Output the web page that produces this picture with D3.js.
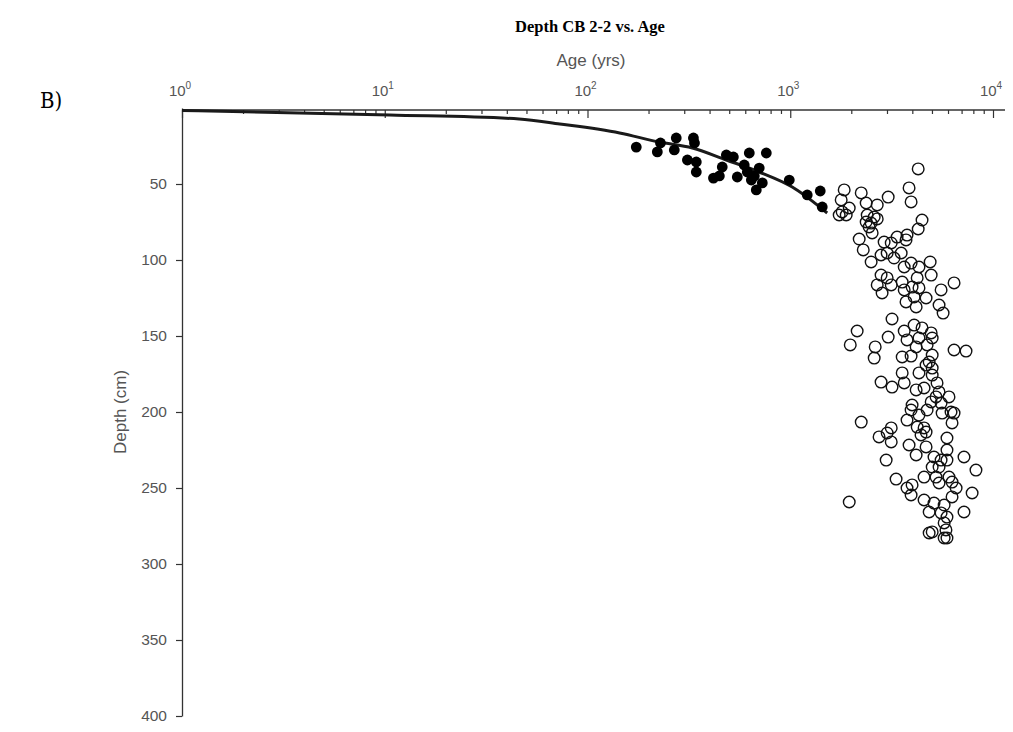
<!DOCTYPE html>
<html>
<head>
<meta charset="utf-8">
<script src="https://cdn.jsdelivr.net/npm/d3@7"></script>
<style>
  body { margin: 0; background: #fff; }
  svg { display: block; }
</style>
</head>
<body>
<div id="chart"></div>
<script>
// fitted age-depth curve (age yrs, depth cm)
const curve_age = [1, 10.6, 46, 73, 144, 226, 329, 484, 703, 1023, 1521];
const curve_depth = [1.6, 4.6, 7.2, 10.5, 16.4, 22.4, 26.3, 34.2, 42.1, 52.0, 69.1];

// dated samples, filled markers
const filled_age = [174, 221, 229, 268, 274, 333, 337, 311, 344, 344, 418, 447, 462, 484, 524,
  548, 628, 593, 703, 762, 643, 680, 728, 989, 1213, 1406, 1438, 614, 665];
const filled_depth = [25.7, 28.9, 23.0, 27.6, 19.7, 19.7, 23.0, 34.2, 35.5, 42.1, 46.1, 44.7, 38.8, 30.9, 32.2,
  45.4, 29.6, 37.5, 39.5, 29.6, 47.4, 53.9, 49.3, 47.4, 57.2, 54.6, 65.1, 42.1, 44.7];

// samples, open markers
const open_age = [4276, 1845, 1783, 3855, 3945, 2239, 2368, 2685, 3041, 1803, 1954, 1888, 1743, 2396, 2594,
  2685, 2368, 2506, 2449, 4467, 4276, 2188, 2535, 2904, 3148, 3365, 3724, 3767, 2291,
  2506, 2805, 3006, 3251, 3524, 3648, 3945, 4315, 4898, 4955, 4227, 2805, 3006, 2685, 3148,
  2838, 3565, 3648, 3990, 4315, 4083, 4677, 3724, 4178, 5546, 6427, 5420, 5675, 3177, 2138,
  1977, 3041, 2624, 3648, 4083, 4467, 4955, 3767, 4315, 4178, 4732, 5012, 6427, 7362, 3565,
  3945, 5012, 2594,
  4677, 4842, 5012, 3565, 4315, 5012, 2805, 3177, 3648, 4178, 4571, 5297, 5420, 5236, 6067,
  4955, 5546, 3990, 3945, 4315, 3767, 6209, 6427, 5610, 6281, 4732, 2239, 4227, 4571, 4677,
  4416, 3148, 3006, 2742, 3148, 3855, 4178, 4677, 5929, 5929, 7194, 2972, 5117, 5546, 5929,
  5012, 5420, 8241,
  3327, 3767, 3990, 3945, 4571, 5236, 5420, 6067, 6281, 6577, 6281, 7889, 1954, 4571, 5117,
  5741, 4842, 5546, 5929, 7194, 5741, 5861, 5012, 4842, 5741, 5929];
const open_depth = [40.1, 53.9, 60.5, 52.6, 61.8, 55.9, 62.5, 63.8, 58.6, 68.4, 65.8, 70.4, 70.4, 70.4, 71.7,
  73.0, 75.0, 75.7, 78.3, 73.7, 79.6, 86.2, 82.2, 88.2, 88.8, 84.9, 86.8, 83.6, 93.4,
  101.3, 96.7, 95.4, 98.7, 95.4, 104.6, 102.0, 104.6, 101.3, 109.9, 111.8, 109.9, 111.8, 116.4, 116.4,
  121.7, 114.5, 119.7, 117.8, 118.4, 124.3, 125.0, 127.6, 130.9, 119.7, 115.1, 129.6, 134.9, 138.8, 146.7,
  155.9, 150.7, 157.2, 146.7, 142.8, 144.7, 148.0, 152.6, 151.3, 157.2, 155.9, 151.3, 159.2, 159.9, 163.8,
  163.2, 162.5, 164.5,
  169.1, 167.1, 171.1, 174.3, 174.3, 175.7, 180.3, 183.6, 180.9, 185.5, 184.2, 180.9, 186.8, 190.1, 190.1,
  193.4, 194.1, 195.4, 198.7, 202.0, 205.3, 200.0, 200.7, 200.7, 207.2, 198.7, 206.6, 209.9, 210.5, 213.2,
  215.1, 210.5, 213.8, 216.4, 219.7, 221.7, 228.3, 223.0, 217.1, 225.0, 229.6, 231.6, 229.6, 231.6, 231.6,
  236.2, 236.2, 238.2,
  244.1, 250.0, 248.0, 254.6, 242.8, 242.8, 246.7, 242.8, 246.1, 250.0, 255.9, 253.3, 259.2, 257.9, 259.9,
  261.2, 265.8, 266.4, 269.1, 265.8, 273.0, 277.6, 278.9, 279.6, 282.9, 282.9];

const age_major = [1, 10, 100, 1000, 10000];
const depth_ticks = [50, 100, 150, 200, 250, 300, 350, 400];

const width = 1013;
const height = 732;
const axis_color = "#333";
const label_color = "#555";
const sans = "Liberation Sans, Arial, sans-serif";

const svg = d3.select("#chart").append("svg")
  .attr("width", width)
  .attr("height", height);

const x = d3.scaleLog().domain([1, 10000]).range([182, 993]);
const y = d3.scaleLinear().domain([0, 400]).range([108, 716]);

// title and panel letter
svg.append("text")
  .attr("x", 590).attr("y", 32)
  .attr("text-anchor", "middle")
  .attr("font-family", "Liberation Serif, Times New Roman, serif")
  .attr("font-weight", "bold")
  .attr("font-size", 16.5)
  .text("Depth CB 2-2 vs. Age");

svg.append("text")
  .attr("x", 40).attr("y", 108)
  .attr("font-family", "DejaVu Serif Condensed, Liberation Serif, serif")
  .attr("font-size", 22)
  .text("B)");

// top log axis
const minor = [];
for (let k = 0; k < 4; k++) {
  for (let m = 2; m <= 9; m++) minor.push(m * Math.pow(10, k));
}

const top_g = svg.append("g").attr("transform", `translate(0,${y(0) + 2})`);
top_g.append("g")
  .call(d3.axisTop(x).tickValues(minor).tickSize(-4).tickSizeOuter(0).tickFormat(""))
  .call((g) => g.select(".domain").remove());
top_g.append("g")
  .call(d3.axisTop(x).tickValues(age_major).tickSize(-8).tickSizeOuter(0).tickFormat(""))
  .call((g) => g.select(".domain").remove());
top_g.selectAll("line").attr("stroke", axis_color).attr("stroke-width", 1.2);
top_g.append("line")
  .attr("x1", x(1)).attr("x2", x(10000) + 12)
  .attr("stroke", axis_color).attr("stroke-width", 1.3);

const exp_labels = top_g.selectAll(".exp_label")
  .data(age_major)
  .join("text")
  .attr("class", "exp_label")
  .attr("x", (d) => x(d) - 2)
  .attr("y", -14)
  .attr("text-anchor", "middle")
  .attr("font-family", sans)
  .attr("font-size", 15)
  .attr("fill", label_color);
exp_labels.append("tspan").text("10");
exp_labels.append("tspan")
  .attr("dy", -7)
  .attr("font-size", 10)
  .text((d) => Math.round(Math.log10(d)));

svg.append("text")
  .attr("x", 591).attr("y", 66)
  .attr("text-anchor", "middle")
  .attr("font-family", sans)
  .attr("font-size", 17)
  .attr("fill", label_color)
  .text("Age (yrs)");

// left depth axis
const left_g = svg.append("g")
  .attr("transform", `translate(${x(1)},0)`)
  .call(d3.axisLeft(y).tickValues(depth_ticks).tickSize(6).tickSizeOuter(0).tickPadding(9));
left_g.select(".domain").attr("stroke", axis_color).attr("stroke-width", 1.3);
left_g.selectAll(".tick line").attr("stroke", axis_color).attr("stroke-width", 1.2);
left_g.selectAll(".tick text")
  .attr("font-family", sans)
  .attr("font-size", 15.5)
  .attr("fill", label_color);

svg.append("text")
  .attr("transform", `translate(126,${y(200)}) rotate(-90)`)
  .attr("text-anchor", "middle")
  .attr("font-family", sans)
  .attr("font-size", 17)
  .attr("fill", label_color)
  .text("Depth (cm)");

// open markers
svg.append("g")
  .selectAll("circle")
  .data(open_age.map((a, i) => [a, open_depth[i]]))
  .join("circle")
  .attr("cx", (d) => x(d[0]))
  .attr("cy", (d) => y(d[1]))
  .attr("r", 5.8)
  .attr("fill", "none")
  .attr("stroke", "#111")
  .attr("stroke-width", 1.4);

// fitted curve
svg.append("path")
  .datum(curve_age.map((a, i) => [a, curve_depth[i]]))
  .attr("fill", "none")
  .attr("stroke", "#1a1a1a")
  .attr("stroke-width", 3)
  .attr("d", d3.line()
    .x((d) => x(d[0]))
    .y((d) => y(d[1]))
    .curve(d3.curveMonotoneX));

// filled markers
svg.append("g")
  .selectAll("circle")
  .data(filled_age.map((a, i) => [a, filled_depth[i]]))
  .join("circle")
  .attr("cx", (d) => x(d[0]))
  .attr("cy", (d) => y(d[1]))
  .attr("r", 5.4)
  .attr("fill", "#000");
</script>
</body>
</html>
